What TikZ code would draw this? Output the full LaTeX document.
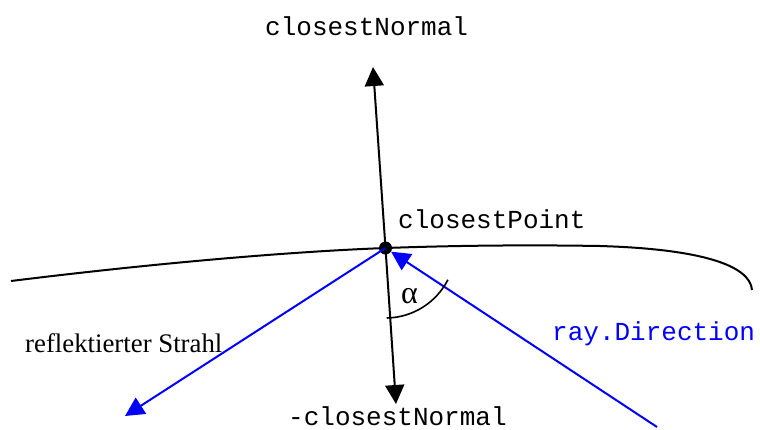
\documentclass[tikz,border=0pt]{standalone}
\usepackage{fontspec}
\setmainfont{Liberation Serif}
\newfontfamily\cour{Liberation Mono}
\usetikzlibrary{arrows.meta}
\tikzset{
  lbl/.style={anchor=base west, inner sep=0pt, font=\cour\fontsize{26}{30}\selectfont},
  serif/.style={anchor=base west, inner sep=0pt, font=\fontsize{26.8}{30}\selectfont},
  vec/.style={line width=2pt, -{Triangle[length=19pt,width=19pt]}},
  bvec/.style={vec, blue},
}
\begin{document}
\begin{tikzpicture}[x=1pt,y=-1pt]
\useasboundingbox (0,0) rectangle (760,429);
% surface curve
\draw[line width=2pt] (11,281) .. controls (140,265) and (280,252) .. (385.5,248)
  .. controls (470,245) and (540,245) .. (600,246)
  .. controls (700,249) and (750,265) .. (752,290);
% point
\node[circle, fill=black, inner sep=0pt, minimum size=13pt] (P) at (385.5,248) {};
\coordinate (N) at (373,67);
\coordinate (D) at (396,404);
\coordinate (R) at (125,416);
\coordinate (S) at (657,427);
\draw[vec] (P.center) -- (N);
\draw[vec] (P.center) -- (D);
\draw[bvec] (P.center) -- (R);
\draw[bvec] (S) -- (P);
% angle arc
\draw[line width=1.6pt] ([shift={(-89:70pt)}]P.center) arc[start angle=-89, end angle=-27, radius=70pt];
% labels
\node[lbl] (tN) at (265,35) {closestNormal};
\node[lbl] (tP) at (398,228) {closestPoint};
\node[lbl, text=blue] (tR) at (552,340) {ray.Direction};
\node[lbl] (tD) at (288,425) {-closestNormal};
\node[serif] (tS) at (25,352) {reflektierter Strahl};
\node[serif, font=\fontsize{32}{34}\selectfont] (ta) at (401,303) {α};
\end{tikzpicture}
\end{document}
